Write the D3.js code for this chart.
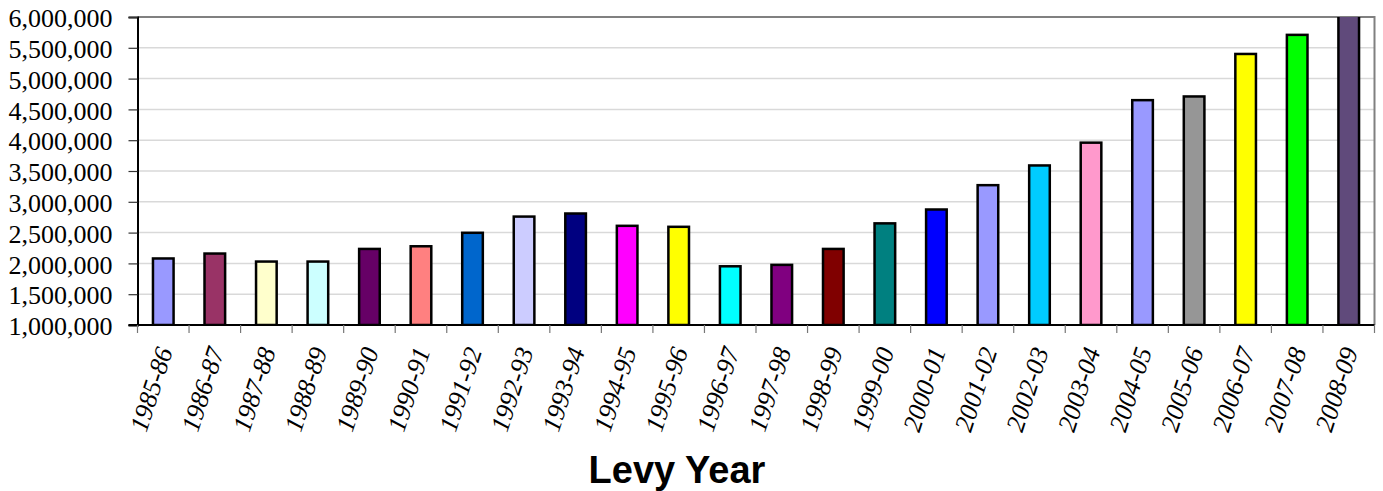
<!DOCTYPE html>
<html>
<head>
<meta charset="utf-8">
<script src="https://cdn.jsdelivr.net/npm/d3@7"></script>
<style>
  html, body { margin: 0; padding: 0; background: #ffffff; }
  svg { display: block; }
</style>
</head>
<body>
<svg id="chart" width="1383" height="491"></svg>
<script>
// Levy year categories
const levyYears = [
  "1985-86", "1986-87", "1987-88", "1988-89", "1989-90", "1990-91",
  "1991-92", "1992-93", "1993-94", "1994-95", "1995-96", "1996-97",
  "1997-98", "1998-99", "1999-00", "2000-01", "2001-02", "2002-03",
  "2003-04", "2004-05", "2005-06", "2006-07", "2007-08", "2008-09"
];

// Levy amount per year
const levyAmounts = [
  2080000, 2160000, 2030000, 2030000, 2235000, 2278000,
  2497000, 2760000, 2810000, 2610000, 2594000, 1953000,
  1976000, 2235000, 2650000, 2875000, 3270000, 3590000,
  3960000, 4650000, 4710000, 5400000, 5710000, 6100000
];

// Fill colour of each bar
const barColors = [
  "#9999FF", "#993366", "#FFFFCC", "#CCFFFF", "#660066", "#FF8080",
  "#0066CC", "#CCCCFF", "#000080", "#FF00FF", "#FFFF00", "#00FFFF",
  "#800080", "#800000", "#008080", "#0000FF", "#9999FF", "#00CCFF",
  "#FF99CC", "#9999FF", "#969696", "#FFFF00", "#00FF00", "#604A7B"
];

// Value axis ticks
const yTicks = [1000000, 1500000, 2000000, 2500000, 3000000, 3500000,
                4000000, 4500000, 5000000, 5500000, 6000000];

const axisTitle = "Levy Year";

const svg = d3.select("#chart");
const plot = { left: 137.5, right: 1374.5, top: 17, bottom: 325 };

const xEdges = d3.scaleLinear()
  .domain([0, levyYears.length])
  .range([plot.left, plot.right]);

const y = d3.scaleLinear()
  .domain([1000000, 6000000])
  .range([plot.bottom, plot.top]);

const fmt = d3.format(",");

// Clip bars to the plotting area
svg.append("defs").append("clipPath").attr("id", "plot-clip")
  .append("rect")
  .attr("x", plot.left)
  .attr("y", plot.top)
  .attr("width", plot.right - plot.left)
  .attr("height", plot.bottom - plot.top);

// Horizontal gridlines
svg.append("g")
  .selectAll("line")
  .data(yTicks.filter(d => d > 1000000 && d < 6000000))
  .join("line")
  .attr("x1", plot.left)
  .attr("x2", plot.right)
  .attr("y1", d => y(d))
  .attr("y2", d => y(d))
  .attr("stroke", "#d9d9d9")
  .attr("stroke-width", 1.5);

// Plot frame: top and right sides
svg.append("path")
  .attr("d", `M${plot.left},${plot.top}H${plot.right}V${plot.bottom}`)
  .attr("fill", "none")
  .attr("stroke", "#808080")
  .attr("stroke-width", 2);

// Bars
const barWidth = (plot.right - plot.left) / levyYears.length / 2.5;
svg.append("g")
  .attr("clip-path", "url(#plot-clip)")
  .selectAll("rect")
  .data(levyYears)
  .join("rect")
  .attr("x", (d, i) => (xEdges(i) + xEdges(i + 1)) / 2 - barWidth / 2)
  .attr("width", barWidth)
  .attr("y", (d, i) => y(levyAmounts[i]))
  .attr("height", (d, i) => plot.bottom - y(levyAmounts[i]))
  .attr("fill", (d, i) => barColors[i])
  .attr("stroke", "#000")
  .attr("stroke-width", 2.5);

// Value axis
const yAxis = svg.append("g")
  .attr("transform", `translate(${plot.left},0)`)
  .call(d3.axisLeft(y).tickValues(yTicks).tickFormat(fmt).tickSize(9).tickPadding(16));
yAxis.select(".domain").attr("stroke", "#000").attr("stroke-width", 2);
yAxis.selectAll(".tick line").attr("stroke", "#333").attr("stroke-width", 1.2);
yAxis.selectAll(".tick text")
  .attr("font-family", "'Liberation Serif', 'Times New Roman', serif")
  .attr("font-size", "26px")
  .attr("fill", "#000")
  .attr("dy", "0.37em");

// Category axis line and tick marks at band boundaries
svg.append("line")
  .attr("x1", plot.left - 9)
  .attr("x2", plot.right)
  .attr("y1", plot.bottom)
  .attr("y2", plot.bottom)
  .attr("stroke", "#000")
  .attr("stroke-width", 2);

svg.append("g")
  .selectAll("line")
  .data(d3.range(levyYears.length + 1))
  .join("line")
  .attr("x1", i => xEdges(i))
  .attr("x2", i => xEdges(i))
  .attr("y1", plot.bottom)
  .attr("y2", plot.bottom + 8)
  .attr("stroke", "#777")
  .attr("stroke-width", 1.2);

// Rotated category labels
svg.append("g")
  .selectAll("text")
  .data(levyYears)
  .join("text")
  .attr("transform", (d, i) =>
    `translate(${(xEdges(i) + xEdges(i + 1)) / 2 + 1},${plot.bottom + 23}) rotate(-72)`)
  .attr("text-anchor", "end")
  .attr("dy", "0.35em")
  .attr("font-family", "'Liberation Serif', 'Times New Roman', serif")
  .attr("font-style", "italic")
  .attr("font-size", "26px")
  .attr("fill", "#000")
  .text(d => d);

// Category axis title
svg.append("text")
  .attr("x", 677)
  .attr("y", 482.5)
  .attr("text-anchor", "middle")
  .attr("font-family", "'Liberation Sans', Arial, sans-serif")
  .attr("font-weight", "bold")
  .attr("font-size", "38px")
  .attr("fill", "#000")
  .text(axisTitle);
</script>
</body>
</html>
